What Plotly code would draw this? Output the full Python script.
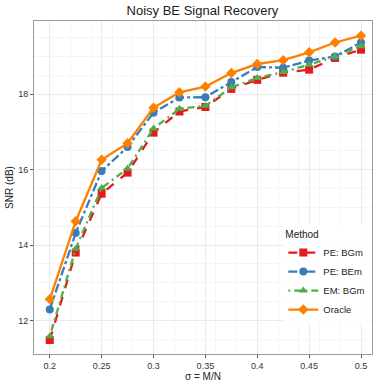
import plotly.graph_objects as go

sigma = [0.2, 0.225, 0.25, 0.275, 0.3, 0.325, 0.35, 0.375, 0.4, 0.425, 0.45, 0.475, 0.5]
pe_bgm = [11.48, 13.80, 15.36, 15.92, 16.98, 17.54, 17.66, 18.14, 18.38, 18.57, 18.65, 18.96, 19.18]
pe_bem = [12.29, 14.32, 15.96, 16.60, 17.51, 17.91, 17.92, 18.32, 18.72, 18.70, 18.89, 19.00, 19.37]
em_bgm = [11.58, 13.90, 15.51, 16.03, 17.09, 17.61, 17.69, 18.18, 18.43, 18.59, 18.78, 19.00, 19.27]
oracle = [12.56, 14.63, 16.26, 16.70, 17.64, 18.05, 18.20, 18.56, 18.80, 18.90, 19.11, 19.37, 19.55]

x_ticks = [0.2, 0.25, 0.3, 0.35, 0.4, 0.45, 0.5]
x_labels = ["0.2", "0.25", "0.3", "0.35", "0.4", "0.45", "0.5"]
y_ticks = [12, 14, 16, 18]

series = [
    ("PE: BGm", pe_bgm, "#e41a1c", "dash", "square"),
    ("PE: BEm", pe_bem, "#377eb8", "dashdot", "circle"),
    ("EM: BGm", em_bgm, "#4daf4a", "2px,4px,7px,4px", "triangle-up"),
    ("Oracle", oracle, "#ff7f00", "solid", "diamond"),
]

fig = go.Figure()
for name, vals, color, dash, symbol in series:
    fig.add_trace(go.Scatter(
        x=sigma, y=vals, mode="lines+markers", name=name,
        line=dict(color=color, width=2.3, dash=dash),
        marker=dict(color=color, symbol=symbol, size=8),
    ))

axis_common = dict(
    showline=True, mirror=True, linecolor="#9a9a9a", linewidth=1,
    ticks="outside", ticklen=3, tickcolor="#555555",
    gridcolor="#ebebeb", gridwidth=1, zeroline=False, automargin=False,
    tickfont=dict(size=9, color="#333333"),
    minor=dict(showgrid=True, gridcolor="#f5f5f5", gridwidth=0.6),
)

fig.update_layout(
    width=382, height=388,
    title=dict(text="Noisy BE Signal Recovery", x=0.53, xanchor="center", y=0.985, yanchor="top",
               font=dict(size=13, color="#222222")),
    font=dict(family="Liberation Sans, Arial, sans-serif"),
    margin=dict(l=34, r=10, t=21, b=34),
    paper_bgcolor="white", plot_bgcolor="white",
    xaxis=dict(axis_common, range=[0.1848, 0.5106], tickvals=x_ticks, ticktext=x_labels,
               title=dict(text="σ = M/N", font=dict(size=10, color="#222222"), standoff=2)),
    yaxis=dict(axis_common, range=[11.11, 19.94], tickvals=y_ticks,
               title=dict(text="SNR (dB)", font=dict(size=10, color="#222222"), standoff=2)),
    legend=dict(title=dict(text="Method", font=dict(size=10)),
                x=0.995, xanchor="right", y=0.09, yanchor="bottom",
                bgcolor="rgba(255,255,255,0.9)", borderwidth=0,
                font=dict(size=9.5, color="#222222"), itemwidth=30, tracegroupgap=0),
    showlegend=True,
)

fig.write_html("out.html", config={"displayModeBar": False},
               post_script="document.body.style.margin='0';")
